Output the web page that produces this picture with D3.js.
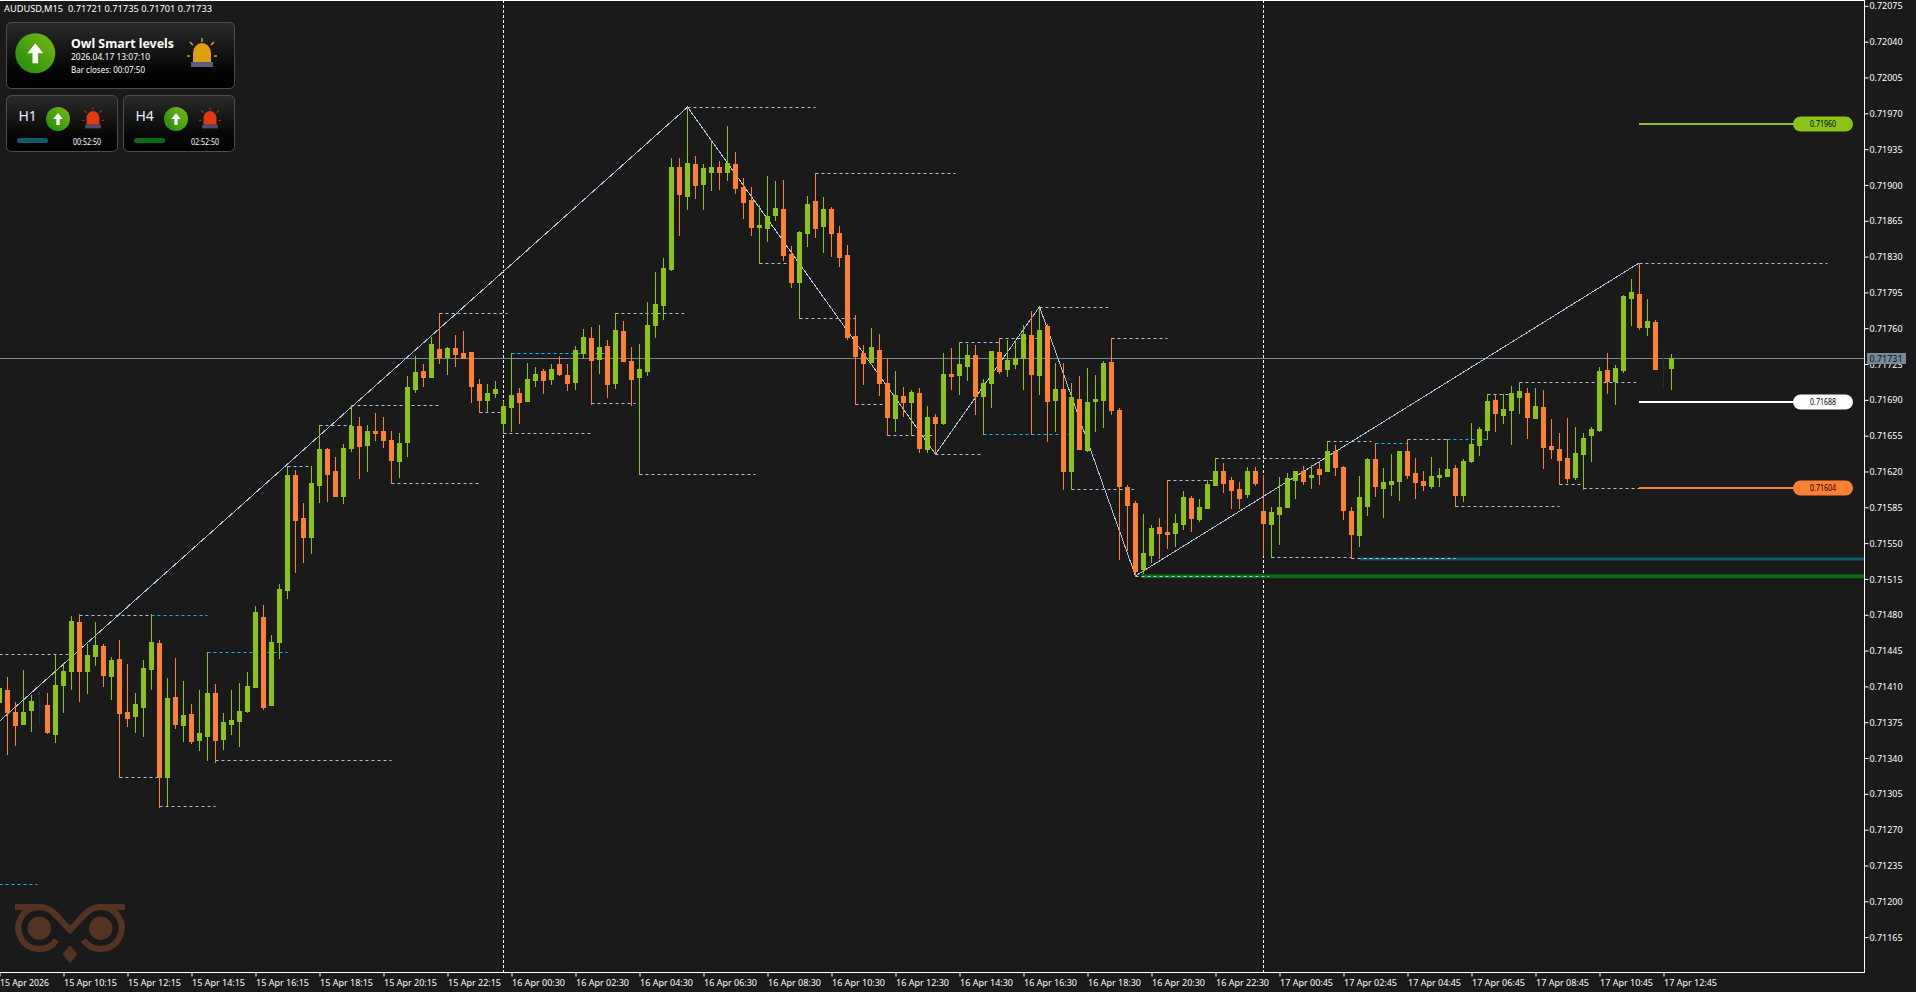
<!DOCTYPE html>
<html>
<head>
<meta charset="utf-8">
<script src="https://cdn.jsdelivr.net/npm/d3@7/dist/d3.min.js"></script>
<style>
html,body{margin:0;padding:0;background:#1a1a1a;overflow:hidden}
svg{display:block}
text{font-family:"Noto Sans",sans-serif;fill:#fff}
</style>
</head>
<body>
<svg id="c" width="1916" height="992"></svg>
<script>
// Prices are in points (1e-5). One entry per bar, bar numbers run from -1 to 208.
const opens=[
71395,71406,71385,71373,71387,71392,71392,71363,71411,71425,
71473,71425,71440,71449,71420,71437,71385,71381,71390,71427,
71452,71321,71400,71372,71383,71358,71362,71404,71359,71373,
71376,71386,71409,71478,71392,71453,71504,71617,71575,71556,
71607,71642,71620,71596,71643,71664,71646,71660,71660,71651,
71630,71649,71701,71718,71712,71740,71732,71741,71736,71737,
71705,71690,71697,71667,71683,71697,71689,71709,71718,71710,
71725,71714,71707,71736,71750,71730,71743,71706,71757,71728,
71712,71718,71763,71783,71818,71918,71889,71920,71901,71913,
71918,71913,71920,71898,71885,71859,71858,71871,71876,71833,
71805,71853,71884,71860,71876,71853,71832,71752,71736,71727,
71739,71706,71672,71694,71688,71697,71642,71673,71667,71715,
71714,71723,71734,71694,71706,71737,71720,71725,71731,71753,
71714,71762,71690,71701,71620,71691,71641,71689,71690,71727,
71680,71605,71589,71525,71538,71566,71561,71560,71569,71594,
71574,71584,71607,71620,71612,71603,71598,71620,71581,71569,
71578,71585,71612,71620,71615,71622,71620,71640,71624,71581,
71558,71586,71632,71604,71608,71611,71640,71619,71611,71606,
71615,71616,71623,71597,71630,71646,71661,71690,71675,71680,
71693,71697,71672,71683,71645,71642,71633,71615,71637,71656,
71661,71719,71708,71719,71790,71793,71761,71766,71722,71721];
const highs=[
71411,71419,71395,71426,71402,71406,71404,71441,71432,71479,
71481,71451,71473,71451,71439,71455,71432,71404,71436,71481,
71455,71418,71438,71415,71393,71406,71444,71412,71384,71406,
71413,71424,71489,71490,71460,71510,71625,71621,71589,71625,
71665,71643,71634,71647,71685,71673,71665,71677,71673,71660,
71658,71713,71733,71725,71751,71775,71742,71753,71757,71737,
71710,71705,71708,71689,71736,71702,71726,71722,71720,71725,
71733,71725,71743,71759,71761,71763,71748,71775,71767,71742,
71745,71786,71815,71829,71926,71926,71976,71928,71920,71944,
71923,71958,71932,71907,71898,71880,71909,71904,71905,71840,
71855,71889,71912,71888,71878,71860,71841,71773,71744,71760,
71754,71730,71718,71703,71700,71702,71684,71676,71736,71741,
71747,71745,71744,71710,71738,71750,71748,71748,71763,71777,
71781,71764,71726,71726,71706,71713,71721,71714,71728,71750,
71682,71607,71591,71578,71568,71575,71612,71578,71601,71596,
71593,71612,71633,71628,71615,71610,71624,71624,71617,71585,
71615,71619,71620,71625,71626,71630,71650,71646,71625,71585,
71616,71633,71648,71623,71637,71640,71652,71633,71620,71634,
71623,71652,71626,71632,71667,71663,71696,71696,71696,71704,
71707,71702,71702,71700,71671,71658,71672,71663,71658,71663,
71722,71736,71724,71792,71808,71824,71789,71768,71738,71735];
const lows=[
71390,71344,71353,71373,71366,71372,71364,71356,71385,71407,
71396,71404,71431,71410,71398,71321,71371,71365,71362,71407,
71292,71294,71369,71357,71355,71348,71338,71336,71349,71363,
71352,71385,71409,71388,71392,71438,71496,71522,71532,71540,
71590,71591,71596,71589,71640,71614,71620,71651,71644,71609,
71615,71635,71698,71704,71712,71726,71715,71723,71731,71688,
71678,71678,71693,71658,71660,71667,71689,71704,71697,71705,
71714,71700,71701,71731,71686,71716,71693,71702,71728,71685,
71618,71714,71751,71769,71817,71851,71876,71887,71876,71895,
71896,71905,71892,71868,71851,71824,71845,71866,71827,71800,
71770,71840,71849,71834,71831,71821,71749,71686,71705,71727,
71695,71656,71660,71674,71656,71639,71639,71637,71666,71701,
71696,71709,71676,71657,71683,71716,71713,71721,71701,71657,
71696,71650,71660,71603,71603,71642,71640,71660,71663,71676,
71534,71543,71518,71521,71532,71535,71545,71547,71564,71562,
71572,71584,71607,71600,71584,71584,71595,71607,71538,71536,
71549,71585,71594,71608,71604,71608,71620,71617,71574,71535,
71547,71577,71596,71576,71597,71592,71614,71594,71602,71604,
71606,71616,71586,71591,71629,71636,71652,71660,71667,71647,
71677,71653,71672,71623,71633,71608,71610,71613,71603,71630,
71660,71697,71686,71717,71763,71759,71753,71720,71702,71701];
const closes=[
71408,71385,71372,71385,71396,71392,71365,71411,71425,71474,
71425,71441,71450,71421,71436,71384,71379,71393,71428,71453,
71321,71399,71373,71382,71357,71364,71404,71358,71375,71377,
71386,71410,71483,71390,71453,71505,71617,71573,71556,71609,
71642,71618,71596,71643,71664,71645,71660,71658,71651,71631,
71648,71703,71717,71712,71745,71732,71741,71735,71731,71704,
71690,71697,71701,71684,71695,71688,71710,71715,71709,71720,
71715,71706,71739,71751,71729,71742,71705,71758,71728,71710,
71720,71763,71784,71819,71918,71891,71921,71900,71917,71918,
71913,71921,71897,71883,71859,71861,71870,71877,71832,71805,
71854,71881,71858,71876,71853,71830,71751,71733,71726,71742,
71706,71673,71695,71688,71698,71643,71673,71667,71715,71713,
71725,71734,71694,71706,71738,71718,71729,71731,71754,71715,
71758,71689,71701,71620,71693,71642,71688,71691,71726,71680,
71606,71587,71523,71540,71565,71560,71559,71570,71595,71575,
71585,71608,71620,71609,71602,71594,71620,71609,71570,71580,
71585,71614,71620,71611,71617,71618,71640,71624,71582,71559,
71595,71632,71606,71610,71611,71640,71617,71610,71607,71616,
71617,71622,71597,71630,71647,71662,71689,71677,71681,71697,
71699,71673,71684,71644,71642,71631,71614,71638,71653,71662,
71718,71708,71721,71791,71795,71761,71767,71720,71722,71731];

// Axis content
const priceTicks=[72075,72040,72005,71970,71935,71900,71865,71830,71795,71760,71725,71690,71655,71620,71585,71550,71515,71480,71445,71410,71375,71340,71305,71270,71235,71200,71165];
const timeTickBars=[-1,7,15,23,31,39,47,55,63,71,79,87,95,103,111,119,127,135,143,151,159,167,175,183,191,199,207];
const timeTickLabels=["15 Apr 2026","15 Apr 10:15","15 Apr 12:15","15 Apr 14:15","15 Apr 16:15","15 Apr 18:15","15 Apr 20:15","15 Apr 22:15",
"16 Apr 00:30","16 Apr 02:30","16 Apr 04:30","16 Apr 06:30","16 Apr 08:30","16 Apr 10:30","16 Apr 12:30","16 Apr 14:30","16 Apr 16:30","16 Apr 18:30","16 Apr 20:30","16 Apr 22:30",
"17 Apr 00:45","17 Apr 02:45","17 Apr 04:45","17 Apr 06:45","17 Apr 08:45","17 Apr 10:45","17 Apr 12:45"];

// Zigzag pivots
const zigzagBars=[-1,85,116,129,141,204];
const zigzagPrices=[71376,71976,71637,71781,71518,71824];

// Dashed swing levels: first bar, last bar, price
const whiteLevelFrom=[-1,9,26,14,19,35,39,43,48,54,59,62,73,79,76,94,85,101,99,119,124,106,110,116,129,133,138,145,151,141,158,168,165,175,181,185,189,194,197,204];
const whiteLevelTo=[8,18,48,19,26,38,43,54,59,62.5,62,73,78.5,93.5,84.6,97.4,101,118.5,106,124,129,109.6,115.6,122,137.6,140.8,145,150.7,164.7,157.7,168,181,170.5,180,194,188,203.6,197,204,227.5];
const whiteLevelPrice=[71442,71480,71338,71321,71293,71625,71665,71685,71609,71775,71678,71658,71687,71618,71775,71824,71976,71912,71770,71747,71750,71686,71656,71637,71781,71603,71750,71612,71633,71518,71536,71535,71650,71652,71586,71696,71707,71608,71604,71824];
const cyanLevelFrom=[18,25,-1,63,122,171,180];
const cyanLevelTo=[25,35,3.75,74.6,132.6,175,185];
const cyanLevelPrice=[71480,71444,71217,71736,71657,71648,71652];

// Period separators and current price
const separatorBars=[62,157];
const bidPrice=71731;

// Thick support lines: first bar and price
const supportBars=[169,141.7];
const supportPrices=[71535,71518];
const supportColors=["#0f5a6b","#0b6a14"];

// Level pills
const pillPrices=[71960,71688,71604];
const pillLabels=["0.71960","0.71688","0.71604"];
const pillColors=["#8bc414","#ffffff","#ff7f33"];

const GREEN="#8bc414",ORANGE="#ff7f33",DOJI="#212c36",STEEL="#b0c4de",CYAN="#00bfff";

const x=d3.scaleLinear().domain([-1,208]).range([-0.5,1671.5]);
const y=d3.scaleLinear().domain([71970,71585]).range([113.3,507.3]);
const px=v=>Math.floor(x(v))+0.5;
const py=v=>Math.round(y(v))+0.5;
const AX=1864,AY=972;

const svg=d3.select("#c");
const plot=svg.append("g");

// separators
plot.selectAll(".sep").data(separatorBars).join("line")
 .attr("x1",d=>px(d)).attr("x2",d=>px(d)).attr("y1",0).attr("y2",AY)
 .attr("stroke","#fff").attr("stroke-dasharray","3 2");
// bid
plot.append("line").attr("x1",0).attr("x2",AX).attr("y1",py(bidPrice)).attr("y2",py(bidPrice)).attr("stroke","#778899");
// thick lines
supportBars.forEach((b,i)=>{
 plot.append("line").attr("x1",x(b)).attr("x2",AX).attr("y1",y(supportPrices[i])+0.5).attr("y2",y(supportPrices[i])+0.5)
  .attr("stroke",supportColors[i]).attr("stroke-width",i==0?3:4);
});
// dashed levels
function levels(from,to,price,color){
 plot.append("g").selectAll("line").data(from.map((f,i)=>({f,t:to[i],p:price[i]}))).join("line")
  .attr("x1",d=>x(d.f)).attr("x2",d=>x(d.t)).attr("y1",d=>py(d.p)).attr("y2",d=>py(d.p))
  .attr("stroke",color).attr("stroke-dasharray","3 3");
}
levels(whiteLevelFrom,whiteLevelTo,whiteLevelPrice,STEEL);
levels(cyanLevelFrom,cyanLevelTo,cyanLevelPrice,CYAN);
// zigzag
plot.append("path").datum(zigzagBars.map((b,i)=>[b,zigzagPrices[i]]))
 .attr("d",d3.line().x(d=>x(d[0])).y(d=>y(d[1])))
 .attr("fill","none").attr("stroke",STEEL).attr("stroke-width",1).attr("shape-rendering","crispEdges");

// pills + level lines
pillPrices.forEach((p,i)=>{
 const yy=Math.round(y(p));
 plot.append("rect").attr("x",1639).attr("y",yy-1).attr("width",156).attr("height",2).attr("fill",pillColors[i]);
 plot.append("rect").attr("x",1793).attr("y",yy-7.5).attr("width",60).attr("height",15).attr("rx",7.5).attr("fill",pillColors[i]);
 plot.append("text").attr("x",1810).attr("y",yy+3).attr("font-size",8.2).attr("textLength",26).attr("lengthAdjust","spacingAndGlyphs").style("fill","#000").text(pillLabels[i]);
});

// candles
const bars=opens.map((o,i)=>({k:i-1,o,h:highs[i],l:lows[i],c:closes[i]}));
const col=d=>d.c>d.o?GREEN:d.c<d.o?ORANGE:DOJI;
const cg=plot.append("g").attr("shape-rendering","crispEdges");
cg.selectAll(".w").data(bars).join("rect")
 .attr("x",d=>Math.floor(x(d.k))).attr("width",1)
 .attr("y",d=>Math.round(y(d.h))).attr("height",d=>Math.max(1,Math.round(y(d.l))-Math.round(y(d.h))+1))
 .attr("fill",col);
cg.selectAll(".b").data(bars).join("rect")
 .attr("x",d=>Math.floor(x(d.k))-2).attr("width",5)
 .attr("y",d=>Math.round(y(Math.max(d.o,d.c))))
 .attr("height",d=>Math.max(1,Math.round(y(Math.min(d.o,d.c)))-Math.round(y(Math.max(d.o,d.c)))+(d.o==d.c?0:1)))
 .attr("fill",col);

// Axes
const ax=svg.append("g");
ax.append("rect").attr("x",0).attr("y",0).attr("width",AX+1).attr("height",1).attr("fill","#fff");
ax.append("rect").attr("x",AX).attr("y",0).attr("width",1).attr("height",AY+1).attr("fill","#fff");
ax.append("rect").attr("x",0).attr("y",AY).attr("width",AX+1).attr("height",1).attr("fill","#fff");
const priceAxis=d3.axisRight(y).tickValues(priceTicks).tickSize(4).tickPadding(1).tickFormat(d=>(d/1e5).toFixed(5));
const gy=ax.append("g").attr("transform",`translate(${AX+0.5},0)`).call(priceAxis);
gy.select(".domain").remove();
gy.selectAll("line").attr("stroke","#fff");
gy.selectAll("text").attr("font-size",9.8).attr("font-family",'"Noto Sans"').attr("textLength",33).attr("lengthAdjust","spacingAndGlyphs").style("fill","#fff");
const timeAxis=d3.axisBottom(x).tickValues(timeTickBars).tickSize(4).tickPadding(3).tickFormat((d,i)=>timeTickLabels[i]);
const gx=ax.append("g").attr("transform",`translate(0,${AY+0.5})`).call(timeAxis);
gx.select(".domain").remove();
gx.selectAll("line").attr("stroke","#fff");
gx.selectAll("text").attr("font-size",9.8).attr("font-family",'"Noto Sans"').attr("text-anchor","start")
 .attr("textLength",(d,i)=>i==0?49:53).attr("lengthAdjust","spacingAndGlyphs").style("fill","#fff");

// bid label
const by=py(bidPrice);
ax.append("rect").attr("x",1867).attr("y",by-5.5).attr("width",39).attr("height",11).attr("fill","#778899");
ax.append("text").attr("x",1869.5).attr("y",by+3.5).attr("font-size",9.8).attr("textLength",33).attr("lengthAdjust","spacingAndGlyphs").style("fill","#111").text((bidPrice/1e5).toFixed(5));

// Header
svg.append("text").attr("x",4).attr("y",11.5).attr("font-size",9.8).attr("xml:space","preserve").attr("textLength",208).attr("lengthAdjust","spacingAndGlyphs")
 .text("AUDUSD,M15  0.71721 0.71735 0.71701 0.71733");

// Panels
const defs=svg.append("defs");
const pg=defs.append("linearGradient").attr("id","pg").attr("x1",0).attr("x2",0).attr("y1",0).attr("y2",1);
pg.append("stop").attr("offset",0).attr("stop-color","#2b2b2b");
pg.append("stop").attr("offset",0.7).attr("stop-color","#060606");
pg.append("stop").attr("offset",1).attr("stop-color","#000");
const gg=defs.append("linearGradient").attr("id","gg").attr("x1",0).attr("x2",1).attr("y1",1).attr("y2",0);
gg.append("stop").attr("offset",0).attr("stop-color","#1d8a0e");
gg.append("stop").attr("offset",1).attr("stop-color","#78ba14");
const panel=(xx,yy,w,h)=>svg.append("rect").attr("x",xx+.5).attr("y",yy+.5).attr("width",w).attr("height",h).attr("rx",5)
 .attr("fill","url(#pg)").attr("stroke","#4d4d4d").attr("stroke-width",1);
panel(6,22,228,66);panel(6,95,111,56);panel(123,95,111,56);

function arrow(cx,cy,r){
 svg.append("circle").attr("cx",cx).attr("cy",cy).attr("r",r).attr("fill","url(#gg)");
 const s=r/20;
 svg.append("path").attr("d",`M${cx},${cy-10*s} L${cx+8*s},${cy} L${cx+2.8*s},${cy} L${cx+2.8*s},${cy+10*s} L${cx-2.8*s},${cy+10*s} L${cx-2.8*s},${cy} L${cx-8*s},${cy} Z`).attr("fill","#fff");
}
function siren(cx,cy,s,dome,rays,base){
 const g=svg.append("g").attr("transform",`translate(${cx},${cy}) scale(${s})`);
 g.append("path").attr("d","M-9,8 L-9,-1 A9,10 0 0 1 9,-1 L9,8 Z").attr("fill",dome);
 g.append("rect").attr("x",-11).attr("y",8).attr("width",22).attr("height",5).attr("fill",base);
 g.selectAll("line").data([[0,-16,0,-12],[-12,-12,-9,-9],[12,-12,9,-9],[-15,2,-12,2],[15,2,12,2]]).join("line")
  .attr("x1",d=>d[0]).attr("y1",d=>d[1]).attr("x2",d=>d[2]).attr("y2",d=>d[3]).attr("stroke",rays).attr("stroke-width",1.5);
}
arrow(35.3,53.3,20);
siren(202,54,1,"#dfa00f","#d9a521","#5d5d7e");
svg.append("text").attr("x",71).attr("y",48).attr("font-size",12.6).attr("font-weight",700).attr("textLength",103).attr("lengthAdjust","spacingAndGlyphs").text("Owl Smart levels");
svg.append("text").attr("x",71).attr("y",60).attr("font-size",8.8).attr("textLength",79).attr("lengthAdjust","spacingAndGlyphs").text("2026.04.17 13:07:10");
svg.append("text").attr("x",71).attr("y",73).attr("font-size",8.5).attr("textLength",74).attr("lengthAdjust","spacingAndGlyphs").text("Bar closes: 00:07:50");

svg.append("text").attr("x",18.5).attr("y",121).attr("font-size",14).style("fill","#e8f0ff").text("H1");
arrow(58,119,12);siren(93,119,0.72,"#e03c14","#a0401c","#4d4d6a");
svg.append("rect").attr("x",17).attr("y",138).attr("width",31).attr("height",5).attr("rx",2.5).attr("fill","#0f5a6b");
svg.append("text").attr("x",73).attr("y",145).attr("font-size",8).attr("textLength",28).attr("lengthAdjust","spacingAndGlyphs").text("00:52:50");

svg.append("text").attr("x",135.5).attr("y",121).attr("font-size",14).style("fill","#e8f0ff").text("H4");
arrow(176,119,12);siren(210,119,0.72,"#e03c14","#a0401c","#4d4d6a");
svg.append("rect").attr("x",134).attr("y",138).attr("width",31).attr("height",5).attr("rx",2.5).attr("fill","#0b6a14");
svg.append("text").attr("x",191).attr("y",145).attr("font-size",8).attr("textLength",28).attr("lengthAdjust","spacingAndGlyphs").text("02:52:50");

// Owl logo
const owl=svg.append("g").attr("fill","none").attr("stroke","#543322").attr("stroke-width",6.2);
owl.append("path").attr("d","M15,907 H39 A21,21 0 1 0 56.5,940");
owl.append("path").attr("d","M125,907 H101 A21,21 0 1 1 83.5,940");
owl.append("path").attr("d","M39,907 C52,907 56,916 70,930 C84,916 88,907 101,907");
svg.append("circle").attr("cx",39.3).attr("cy",928.3).attr("r",11.7).attr("fill","#543322");
svg.append("circle").attr("cx",100.7).attr("cy",928.3).attr("r",11.7).attr("fill","#543322");
svg.append("path").attr("d","M70,945 L77.3,954 L70,963.5 L62.7,954 Z").attr("fill","#543322");
</script>
</body>
</html>
